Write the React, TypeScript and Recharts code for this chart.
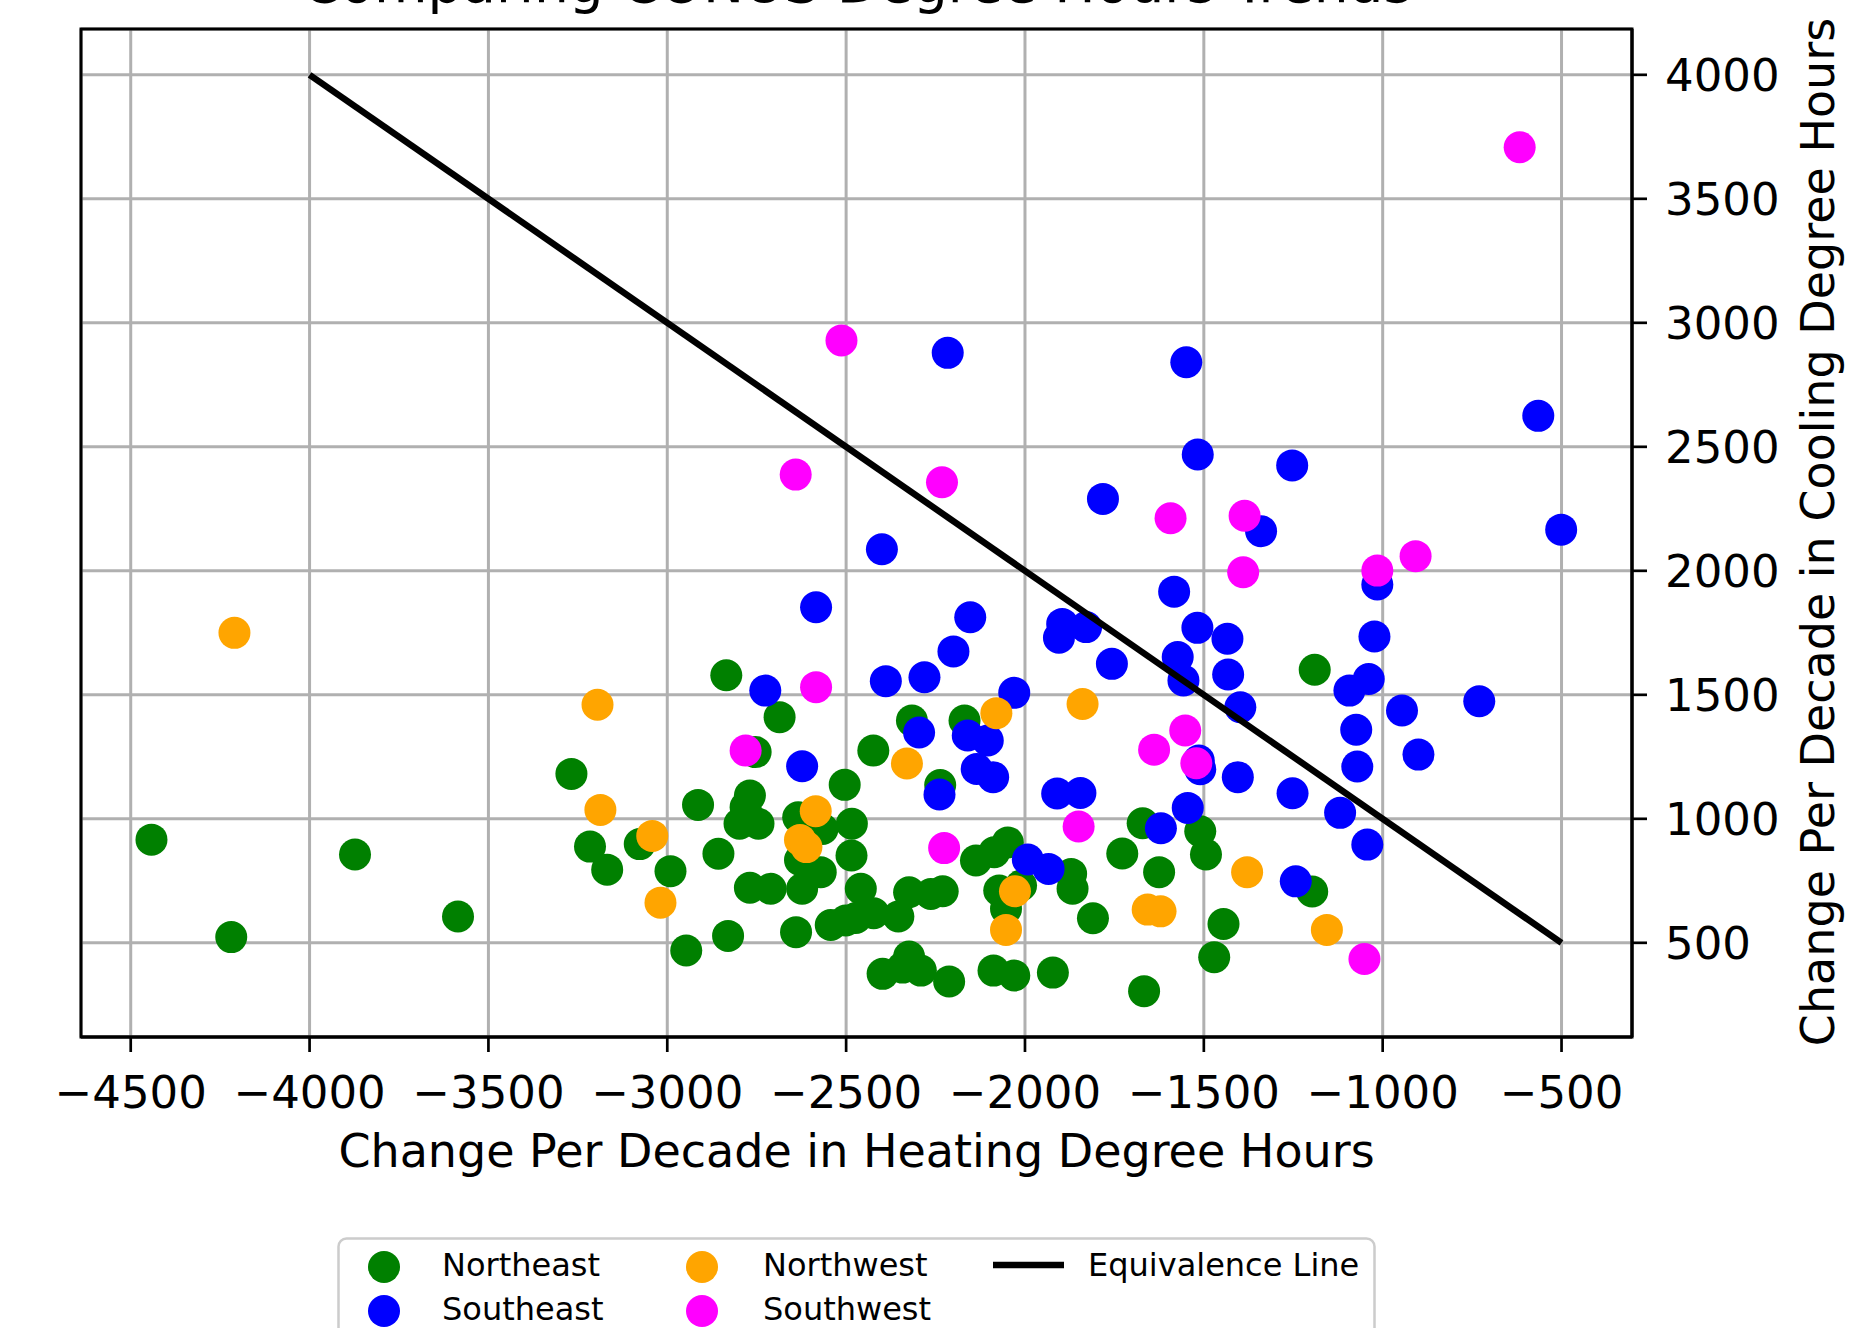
import React from 'react';
import {
  ScatterChart,
  Scatter,
  XAxis,
  YAxis,
  CartesianGrid,
  ReferenceArea,
  Legend,
  Label,
} from 'recharts';

const FONT = "'DejaVu Sans', 'Noto Sans', sans-serif";

// [change in heating degree hours, change in cooling degree hours]
const northeast: [number, number][] = [
  [-4442, 916], [-4219, 523], [-3873, 856], [-3585, 606], [-3268, 1181],
  [-3216, 888], [-3168, 795], [-3077, 898], [-2991, 789], [-2947, 469],
  [-2914, 1056], [-2857, 859], [-2835, 1579], [-2830, 528], [-2798, 980],
  [-2781, 1047], [-2769, 1094], [-2769, 722], [-2753, 1269], [-2745, 980],
  [-2711, 718], [-2686, 1410], [-2640, 543], [-2634, 1006], [-2629, 834],
  [-2623, 718], [-2571, 785], [-2566, 959], [-2543, 572], [-2504, 1137],
  [-2501, 590], [-2485, 852], [-2484, 980], [-2473, 600], [-2459, 718],
  [-2424, 1275], [-2423, 619], [-2398, 375], [-2354, 606], [-2342, 400],
  [-2324, 704], [-2324, 445], [-2316, 1396], [-2291, 388], [-2263, 697],
  [-2237, 1136], [-2230, 708], [-2212, 344], [-2169, 1396], [-2137, 832],
  [-2088, 388], [-2086, 865], [-2072, 711], [-2053, 637], [-2048, 905],
  [-2030, 368], [-2011, 731], [-1922, 380], [-1871, 778], [-1867, 718],
  [-1810, 599], [-1728, 860], [-1671, 982], [-1667, 305], [-1625, 785],
  [-1510, 950], [-1494, 856], [-1471, 442], [-1445, 576], [-1197, 707],
  [-1190, 1601],
];

const southeast: [number, number][] = [
  [-2584, 1853], [-2400, 2087], [-2216, 2879], [-2153, 1813], [-2200, 1675],
  [-1896, 1786], [-1905, 1730], [-1829, 1773], [-2726, 1517], [-2389, 1555],
  [-2281, 1571], [-2030, 1508], [-2296, 1348], [-2160, 1336], [-2104, 1316],
  [-2623, 1212], [-2135, 1201], [-2089, 1168], [-2239, 1098], [-1910, 1102],
  [-1845, 1104], [-1992, 836], [-1934, 798], [-1583, 1916], [-1518, 1770],
  [-1434, 1726], [-1023, 1735], [-1757, 1625], [-1573, 1652], [-1557, 1558],
  [-1432, 1582], [-1093, 1517], [-1039, 1564], [-1398, 1450], [-946, 1437],
  [-730, 1474], [-1514, 1235], [-1510, 1200], [-1405, 1168], [-1074, 1359],
  [-1071, 1211], [-900, 1259], [-1252, 1103], [-1119, 1024], [-1043, 896],
  [-1545, 1044], [-1620, 962], [-1243, 748], [-1015, 1945], [-1549, 2841],
  [-1517, 2469], [-1782, 2290], [-1340, 2160], [-1253, 2425], [-565, 2625],
  [-501, 2166],
];

const northwest: [number, number][] = [
  [-4210, 1750], [-3195, 1460], [-3187, 1036], [-3042, 931], [-3019, 662],
  [-2629, 915], [-2611, 886], [-2585, 1031], [-2330, 1223], [-2080, 1426],
  [-2028, 708], [-2053, 552], [-1839, 1463], [-1657, 634], [-1621, 627],
  [-1379, 785], [-1156, 552],
];

const southwest: [number, number][] = [
  [-2513, 2929], [-2641, 2388], [-2232, 2357], [-2584, 1531], [-2781, 1275],
  [-2226, 882], [-1850, 969], [-1639, 1279], [-1552, 1356], [-1521, 1224],
  [-1593, 2212], [-1386, 2222], [-1390, 1994], [-1015, 2001], [-908, 2059],
  [-617, 3708], [-1051, 435],
];

const equivalenceLine: [number, number][] = [
  [-4000, 4000],
  [-500, 500],
];

const xTicks = [-4500, -4000, -3500, -3000, -2500, -2000, -1500, -1000, -500];
const yTicks = [500, 1000, 1500, 2000, 2500, 3000, 3500, 4000];
const xDomain: [number, number] = [-4639, -303];
const yDomain: [number, number] = [120.25, 4184.75];

const TITLE = 'Comparing CONUS Degree Hours Trends';
const X_LABEL = 'Change Per Decade in Heating Degree Hours';
const Y_LABEL = 'Change Per Decade in Cooling Degree Hours';

const series = [
  { name: 'Northeast', color: '#008000', values: northeast },
  { name: 'Southeast', color: '#0000ff', values: southeast },
  { name: 'Northwest', color: '#ffa500', values: northwest },
  { name: 'Southwest', color: '#ff00ff', values: southwest },
];

const toPoints = (arr: [number, number][]) => arr.map(([x, y]) => ({ x, y }));

const fmt = (v: number) => (v < 0 ? '\u2212' + Math.abs(v) : String(v));

const dot = (color: string) => (props: any) => (
  <circle cx={props.cx} cy={props.cy} r={16} fill={color} />
);

const LegendBox = () => {
  const items = [
    { label: 'Northeast', color: '#008000', kind: 'dot', col: 0, row: 0 },
    { label: 'Southeast', color: '#0000ff', kind: 'dot', col: 0, row: 1 },
    { label: 'Northwest', color: '#ffa500', kind: 'dot', col: 1, row: 0 },
    { label: 'Southwest', color: '#ff00ff', kind: 'dot', col: 1, row: 1 },
    { label: 'Equivalence Line', color: '#000000', kind: 'line', col: 2, row: 0 },
  ];
  const markerX = [47, 365, 656];
  const textX = [105, 426, 751];
  const rowY = [30, 74];
  return (
    <svg width={1040} height={120} style={{ display: 'block' }}>
      <rect x={1.5} y={1.5} width={1036} height={116} rx={8} ry={8} fill="#ffffff" stroke="#cccccc" strokeWidth={2.5} />
      {items.map((it) => (
        <g key={it.label}>
          {it.kind === 'dot' ? (
            <circle cx={markerX[it.col]} cy={rowY[it.row]} r={16} fill={it.color} />
          ) : (
            <line x1={markerX[it.col]} x2={markerX[it.col] + 71} y1={rowY[it.row] - 2} y2={rowY[it.row] - 2} stroke={it.color} strokeWidth={6.5} />
          )}
          <text x={textX[it.col]} y={rowY[it.row] + 9} fontSize={32} fontFamily={FONT} fill="#000">
            {it.label}
          </text>
        </g>
      ))}
    </svg>
  );
};

const XLabel = (props: any) => {
  const vb = props.viewBox || { x: 81, y: 1037, width: 1551, height: 60 };
  return (
    <text x={vb.x + vb.width / 2} y={vb.y + 130} textAnchor="middle" fontSize={46} fontFamily={FONT} fill="#000">
      {X_LABEL}
    </text>
  );
};

const YLabel = (props: any) => {
  const vb = props.viewBox || { x: 1632, y: 29, width: 160, height: 1008 };
  const x = vb.x + 202;
  const y = vb.y + vb.height / 2 - 1;
  return (
    <text x={x} y={y} transform={`rotate(-90 ${x} ${y})`} textAnchor="middle" fontSize={46} fontFamily={FONT} fill="#000">
      {Y_LABEL}
    </text>
  );
};

export default function App() {
  return (
    <div style={{ position: 'absolute', left: 0, top: 0, width: 1854, height: 1328, overflow: 'hidden', background: '#fff' }}>
      <ScatterChart width={1854} height={1328} margin={{ top: 29, right: 62, bottom: 231, left: 81 }}>
        <CartesianGrid stroke="#b0b0b0" strokeWidth={3} />
        <XAxis
          type="number"
          dataKey="x"
          domain={xDomain}
          ticks={xTicks}
          allowDataOverflow
          tickFormatter={fmt}
          height={60}
          tickSize={15}
          tickMargin={24}
          tick={{ fill: '#000', fontSize: 45, fontFamily: FONT }}
          tickLine={{ stroke: '#000', strokeWidth: 2.7 }}
          axisLine={{ stroke: '#000', strokeWidth: 3 }}
        >
          <Label content={<XLabel />} />
        </XAxis>
        <YAxis
          type="number"
          dataKey="y"
          orientation="right"
          domain={yDomain}
          ticks={yTicks}
          allowDataOverflow
          tickFormatter={fmt}
          width={160}
          tickSize={15}
          tickMargin={18}
          tick={{ fill: '#000', fontSize: 45, fontFamily: FONT, textAnchor: 'start' }}
          tickLine={{ stroke: '#000', strokeWidth: 2.7 }}
          axisLine={{ stroke: '#000', strokeWidth: 3 }}
        >
          <Label content={<YLabel />} />
        </YAxis>
        <ReferenceArea
          x1={xDomain[0]}
          x2={xDomain[1]}
          y1={yDomain[0]}
          y2={yDomain[1]}
          fill="none"
          fillOpacity={0}
          stroke="#000"
          strokeWidth={3}
          ifOverflow="visible"
        />
        {series.map((s) => (
          <Scatter
            key={s.name}
            name={s.name}
            data={toPoints(s.values)}
            fill={s.color}
            shape={dot(s.color)}
            isAnimationActive={false}
          />
        ))}
        <Scatter
          name="Equivalence Line"
          data={toPoints(equivalenceLine)}
          line={{ stroke: '#000', strokeWidth: 6.5 }}
          shape={() => <g />}
          isAnimationActive={false}
        />
        <Legend
          layout="horizontal"
          verticalAlign="middle"
          align="center"
          content={<LegendBox />}
          wrapperStyle={{ position: 'absolute', left: 337, top: 1237, width: 1040, height: 120 }}
        />
      </ScatterChart>
      <svg width={1854} height={80} style={{ position: 'absolute', left: 0, top: 0, pointerEvents: 'none' }}>
        <text x={857} y={1.5} textAnchor="middle" fontSize={55} fontFamily={FONT} fill="#000">
          {TITLE}
        </text>
      </svg>
    </div>
  );
}
